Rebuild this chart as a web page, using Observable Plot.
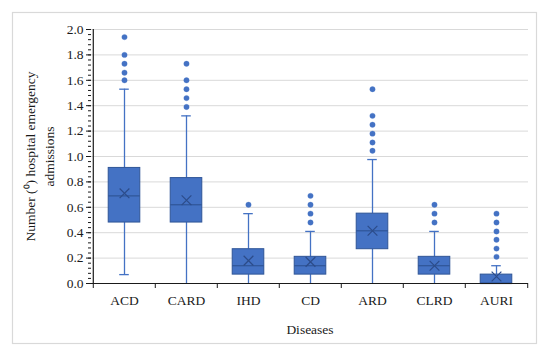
<!DOCTYPE html>
<html>
<head>
<meta charset="utf-8">
<script src="https://cdn.jsdelivr.net/npm/d3@7"></script>
<script src="https://cdn.jsdelivr.net/npm/@observablehq/plot@0.6"></script>
<style>
  html, body { margin: 0; padding: 0; background: #fff; }
  #chart svg { display: block; }
  #chart svg text { font-family: "Liberation Serif", "Times New Roman", serif !important; }
</style>
</head>
<body>
<div id="chart"></div>
<script>
// Data
const categories = ["ACD", "CARD", "IHD", "CD", "ARD", "CLRD", "AURI"];
const whiskerLow  = [0.07, 0.00, 0.00, 0.00, 0.00, 0.00, 0.00];
const q1          = [0.48, 0.48, 0.07, 0.07, 0.27, 0.07, 0.00];
const median      = [0.69, 0.62, 0.14, 0.14, 0.415, 0.14, 0.00];
const q3          = [0.91, 0.83, 0.27, 0.21, 0.55, 0.21, 0.07];
const whiskerHigh = [1.53, 1.32, 0.55, 0.41, 0.976, 0.41, 0.14];
const meanVal     = [0.71, 0.655, 0.18, 0.17, 0.415, 0.14, 0.055];
const outliers = [
  [1.60, 1.66, 1.73, 1.80, 1.94],
  [1.39, 1.46, 1.53, 1.60, 1.73],
  [0.62],
  [0.48, 0.55, 0.62, 0.69],
  [1.045, 1.11, 1.18, 1.25, 1.32, 1.53],
  [0.48, 0.55, 0.62],
  [0.21, 0.275, 0.345, 0.41, 0.48, 0.55]
];
const yTicks = [0, 0.2, 0.4, 0.6, 0.8, 1.0, 1.2, 1.4, 1.6, 1.8, 2.0];
const yLabel = "Number (\u2070) hospital emergency\nadmissions";
const xLabel = "Diseases";

const boxes = categories.map((c, i) => ({
  cat: c, lo: whiskerLow[i], q1: q1[i], med: median[i], q3: q3[i], hi: whiskerHigh[i], mean: meanVal[i]
}));
const outlierRows = categories.flatMap((c, i) => outliers[i].map(v => ({cat: c, value: v})));

const W = 550, H = 356;
const mL = 91, mR = 22, mT = 29, mB = 73;
const band = (W - mL - mR) / categories.length;
const boxInset = (band - 32) / 2;
const capInset = (band - 10) / 2;

const blue = "#4472C4";
const dark = "#2F5597";
const font = "Liberation Serif";
const ink = "#1a1a1a";

const minorTicks = d3.range(0, 2.0001, 0.04).map(v => +v.toFixed(2));

const svg = Plot.plot({
  width: W, height: H,
  marginLeft: mL, marginRight: mR, marginTop: mT, marginBottom: mB,
  style: {fontFamily: font, fontSize: "13px", color: ink, background: "#fff"},
  x: {domain: categories, padding: 0, label: null},
  y: {domain: [0, 2.0], label: null},
  marks: [
    Plot.gridY(yTicks.filter(v => v > 0), {stroke: "#d9d9d9", strokeOpacity: 1}),
    // minor y ticks
    Plot.axisY({ticks: minorTicks, tickSize: 3, tickFormat: () => "", stroke: ink}),
    // major y ticks + labels
    Plot.axisY({ticks: yTicks, tickSize: 5, tickPadding: 3, tickFormat: d3.format(".1f"), stroke: ink, fill: ink, fontSize: 13.5, fontFamily: font}),
    // x labels
    Plot.axisX({tickSize: 0, tickPadding: 12, fontSize: 13.5, fill: ink, fontFamily: font}),
    // band boundary ticks
    Plot.axisX({ticks: categories, tickSize: 5, dx: -band / 2, tickFormat: () => "", stroke: ink}),
    Plot.axisX({ticks: [categories[categories.length - 1]], tickSize: 5, dx: band / 2, tickFormat: () => "", stroke: ink}),
    // whiskers
    Plot.ruleX(boxes, {x: "cat", y1: "lo", y2: "q1", stroke: blue, strokeWidth: 1.3}),
    Plot.ruleX(boxes, {x: "cat", y1: "q3", y2: "hi", stroke: blue, strokeWidth: 1.3}),
    Plot.tickY(boxes, {x: "cat", y: "hi", stroke: blue, strokeWidth: 1.3, insetLeft: capInset, insetRight: capInset}),
    Plot.tickY(boxes.filter(d => d.lo > 0), {x: "cat", y: "lo", stroke: blue, strokeWidth: 1.3, insetLeft: capInset, insetRight: capInset}),
    // boxes
    Plot.barY(boxes, {x: "cat", y1: "q1", y2: "q3", fill: blue, stroke: dark, strokeWidth: 1, insetLeft: boxInset, insetRight: boxInset}),
    Plot.tickY(boxes, {x: "cat", y: "med", stroke: dark, strokeWidth: 1.2, insetLeft: boxInset, insetRight: boxInset}),
    Plot.dot(boxes, {x: "cat", y: "mean", symbol: "times", r: 4.5, stroke: "#2C4C8A", strokeWidth: 1.2}),
    // outliers
    Plot.dot(outlierRows, {x: "cat", y: "value", r: 2.7, fill: blue, stroke: blue, strokeWidth: 0.3}),
    // axes lines
    Plot.ruleY([0], {stroke: ink, strokeWidth: 1.2}),
    Plot.ruleX([categories[0]], {dx: -band / 2, stroke: ink, strokeWidth: 1.2}),
    // axis titles
    Plot.text([xLabel], {frameAnchor: "bottom", dy: 46, lineAnchor: "middle", fontSize: 13.5, fill: ink, fontFamily: font}),
    Plot.text([yLabel], {frameAnchor: "left", dx: -53, rotate: -90, lineHeight: 1.4, lineAnchor: "middle", textAnchor: "middle", fontSize: 13.5, fill: ink, fontFamily: font})
  ]
});

d3.select(svg).insert("rect", ":first-child")
  .attr("x", 12.5).attr("y", 12.5).attr("width", 524).attr("height", 331)
  .attr("fill", "none").attr("stroke", "#d9d9d9").attr("stroke-width", 1.2);

document.getElementById("chart").appendChild(svg);
</script>
</body>
</html>
